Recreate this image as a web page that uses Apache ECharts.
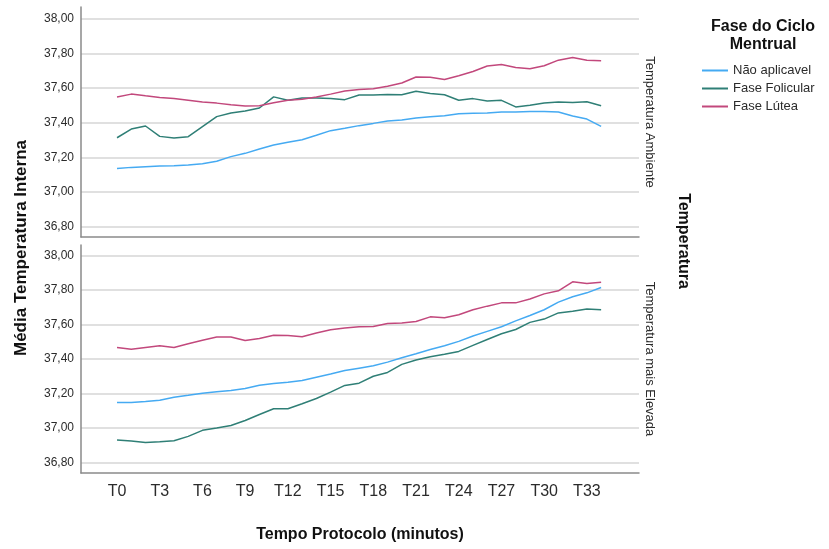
<!DOCTYPE html>
<html>
<head>
<meta charset="utf-8">
<script src="https://cdn.jsdelivr.net/npm/echarts@6/dist/echarts.min.js"></script>
<style>
  html, body { margin: 0; padding: 0; background: #fff; }
  #chart { width: 829px; height: 549px; }
</style>
</head>
<body>
<div id="chart"></div>
<script>
// Time points of the protocol (minutes)
const timeLabels = Array.from({ length: 35 }, (_, i) => 'T' + i);
const xTickValues = [0, 3, 6, 9, 12, 15, 18, 21, 24, 27, 30, 33];
const yTickValues = [36.8, 37.0, 37.2, 37.4, 37.6, 37.8, 38.0];

const seriesNames = ['Não aplicavel', 'Fase Folicular', 'Fase Lútea'];
const seriesColors = ['#45aaf2', '#2f7f76', '#c2487c'];
const panelNames = ['Temperatura Ambiente', 'Temperatura mais Elevada'];

// Panel 1: Temperatura Ambiente
const ambNaoAplicavel = [37.136, 37.142, 37.146, 37.150, 37.152, 37.156, 37.163, 37.177, 37.204, 37.223,
  37.248, 37.271, 37.287, 37.302, 37.327, 37.354, 37.368, 37.383, 37.396, 37.410,
  37.415, 37.427, 37.435, 37.440, 37.452, 37.454, 37.456, 37.462, 37.462, 37.464,
  37.464, 37.462, 37.439, 37.421, 37.379];
const ambFolicular = [37.313, 37.363, 37.381, 37.321, 37.311, 37.319, 37.377, 37.435, 37.456, 37.467,
  37.485, 37.549, 37.529, 37.543, 37.543, 37.540, 37.533, 37.560, 37.560, 37.563,
  37.561, 37.581, 37.569, 37.561, 37.530, 37.539, 37.525, 37.529, 37.491, 37.501,
  37.514, 37.520, 37.516, 37.521, 37.498];
const ambLutea = [37.548, 37.565, 37.555, 37.546, 37.540, 37.530, 37.520, 37.513, 37.503, 37.496,
  37.498, 37.515, 37.529, 37.535, 37.548, 37.565, 37.583, 37.592, 37.596, 37.610,
  37.629, 37.664, 37.662, 37.649, 37.671, 37.696, 37.727, 37.736, 37.719, 37.711,
  37.729, 37.761, 37.777, 37.761, 37.758];

// Panel 2: Temperatura mais Elevada
const eleNaoAplicavel = [37.148, 37.148, 37.154, 37.161, 37.179, 37.190, 37.202, 37.210, 37.217, 37.229,
  37.248, 37.258, 37.266, 37.275, 37.294, 37.313, 37.333, 37.347, 37.361, 37.382,
  37.407, 37.430, 37.455, 37.477, 37.502, 37.533, 37.560, 37.587, 37.621, 37.652,
  37.685, 37.729, 37.760, 37.783, 37.814];
const eleFolicular = [36.931, 36.925, 36.917, 36.921, 36.927, 36.952, 36.987, 37.000, 37.015, 37.044,
  37.079, 37.112, 37.112, 37.141, 37.171, 37.208, 37.247, 37.260, 37.300, 37.322,
  37.369, 37.394, 37.413, 37.427, 37.444, 37.479, 37.513, 37.546, 37.571, 37.612,
  37.631, 37.667, 37.677, 37.690, 37.685];
const eleLutea = [37.467, 37.457, 37.467, 37.477, 37.467, 37.488, 37.509, 37.527, 37.527, 37.507,
  37.519, 37.538, 37.536, 37.529, 37.550, 37.569, 37.579, 37.587, 37.588, 37.606,
  37.608, 37.617, 37.644, 37.639, 37.656, 37.685, 37.706, 37.725, 37.725, 37.747,
  37.777, 37.795, 37.847, 37.837, 37.845];

const panels = [
  [ambNaoAplicavel, ambFolicular, ambLutea],
  [eleNaoAplicavel, eleFolicular, eleLutea]
];

const FONT = 'Liberation Sans, Arial, sans-serif';

const chart = echarts.init(document.getElementById('chart'), null, { renderer: 'canvas' });

const grids = [
  { left: 81, top: 7, width: 558, height: 230 },
  { left: 81, top: 245, width: 558, height: 228 }
];

function makeXAxis(idx) {
  return {
    type: 'value',
    gridIndex: idx,
    min: -2.53,
    max: 36.66,
    axisLine: { show: true, onZero: false, lineStyle: { color: '#8a8a8a', width: 1.5 } },
    axisTick: { show: false, customValues: xTickValues },
    splitLine: { show: false },
    axisLabel: {
      show: idx === 1,
      customValues: xTickValues,
      formatter: v => timeLabels[v],
      fontFamily: FONT,
      fontSize: 16,
      color: '#2b2b2b',
      margin: 11
    }
  };
}

function makeYAxis(idx) {
  return {
    type: 'value',
    gridIndex: idx,
    min: 36.74,
    max: idx === 0 ? 38.068 : 38.06,
    axisLine: { show: true, onZero: false, lineStyle: { color: '#8a8a8a', width: 1.5 } },
    axisTick: { show: false, customValues: yTickValues },
    splitLine: { show: true, lineStyle: { color: '#d6d6d6', width: 1.5 } },
    axisLabel: {
      customValues: yTickValues,
      formatter: v => v.toFixed(2).replace('.', ','),
      fontFamily: FONT,
      fontSize: 12,
      color: '#2b2b2b',
      margin: 7
    }
  };
}

const series = [];
panels.forEach((panel, p) => {
  panel.forEach((values, s) => {
    series.push({
      name: seriesNames[s],
      type: 'line',
      xAxisIndex: p,
      yAxisIndex: p,
      data: values.map((v, i) => [i, v]),
      showSymbol: false,
      symbol: 'none',
      smooth: false,
      lineStyle: { color: seriesColors[s], width: 1.5 },
      itemStyle: { color: seriesColors[s] },
      emphasis: { disabled: true },
      z: 3 + s
    });
  });
});

const option = {
  backgroundColor: '#ffffff',
  animation: false,
  grid: grids,
  xAxis: [makeXAxis(0), makeXAxis(1)],
  yAxis: [makeYAxis(0), makeYAxis(1)],
  legend: {
    data: seriesNames,
    orient: 'vertical',
    left: 702,
    top: 63,
    padding: 0,
    itemWidth: 26,
    itemHeight: 2,
    itemGap: 3,
    icon: 'rect',
    textStyle: { fontFamily: FONT, fontSize: 13, color: '#2b2b2b', lineHeight: 15 },
    selectedMode: false
  },
  graphic: [
    {
      type: 'text',
      x: 763, y: 18,
      style: {
        text: 'Fase do Ciclo\nMentrual',
        font: 'bold 16px ' + FONT,
        fill: '#111',
        align: 'center',
        verticalAlign: 'top',
        lineHeight: 18
      }
    },
    {
      type: 'text',
      x: 21, y: 248,
      rotation: Math.PI / 2,
      style: {
        text: 'Média Temperatura Interna',
        font: 'bold 17px ' + FONT,
        fill: '#111',
        align: 'center',
        verticalAlign: 'middle'
      }
    },
    {
      type: 'text',
      x: 360, y: 535,
      style: {
        text: 'Tempo Protocolo (minutos)',
        font: 'bold 16px ' + FONT,
        fill: '#111',
        align: 'center',
        verticalAlign: 'middle'
      }
    },
    {
      type: 'text',
      x: 683, y: 241,
      rotation: -Math.PI / 2,
      style: {
        text: 'Temperatura',
        font: 'bold 16px ' + FONT,
        fill: '#111',
        align: 'center',
        verticalAlign: 'middle'
      }
    },
    {
      type: 'text',
      x: 650, y: 122,
      rotation: -Math.PI / 2,
      style: {
        text: panelNames[0],
        font: '13px ' + FONT,
        fill: '#2b2b2b',
        align: 'center',
        verticalAlign: 'middle'
      }
    },
    {
      type: 'text',
      x: 650, y: 359,
      rotation: -Math.PI / 2,
      style: {
        text: panelNames[1],
        font: '13px ' + FONT,
        fill: '#2b2b2b',
        align: 'center',
        verticalAlign: 'middle'
      }
    }
  ],
  series: series
};

chart.setOption(option);
</script>
</body>
</html>
